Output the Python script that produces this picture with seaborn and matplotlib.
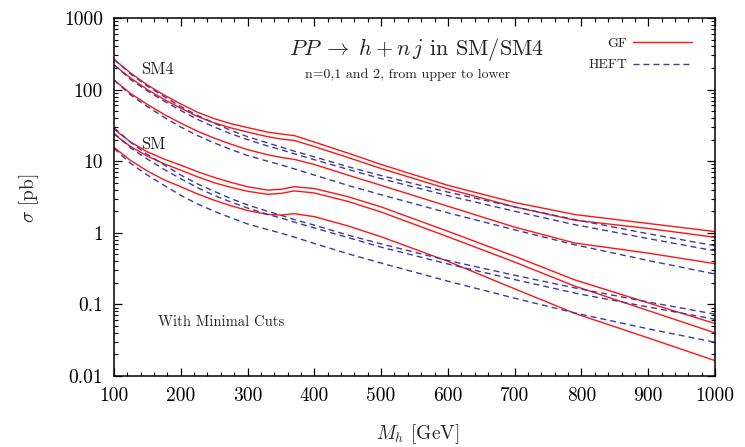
import pandas as pd
import matplotlib
matplotlib.use("Agg")
import matplotlib.pyplot as plt
import matplotlib.ticker as mticker
from matplotlib.lines import Line2D
import seaborn as sns

# ── Data: sigma [pb], n = 0, 1, 2 ──────────────────────────────────────────────
MH = [100, 125, 150, 175, 200, 225, 250, 275, 300, 330, 350, 370, 400, 450, 500, 600, 700, 790, 900, 1000]

SM4_GF0 = [265, 170, 116, 84, 63, 48.3, 39.3, 33.4, 29.5, 25.5, 24, 22.8, 18.5, 13, 9.0, 4.6, 2.65, 1.8, 1.35, 1.04]
SM4_GF1 = [221, 145, 100, 73, 55, 42.2, 34.3, 29.2, 25.5, 22, 20.4, 19.5, 16, 11.3, 7.9, 4.1, 2.3, 1.5, 1.15, 0.865]
SM4_GF2 = [136, 88, 62, 45, 34, 26.2, 21, 17.3, 14.5, 12.3, 11.3, 10.6, 9.0, 6.4, 4.6, 2.35, 1.2, 0.72, 0.52, 0.37]

SM4_HEFT0 = [265, 165, 112, 80, 58, 43.5, 34, 27, 22, 18, 15.8, 13.8, 11.5, 8.4, 6.3, 3.7, 2.3, 1.53, 0.97, 0.66]
SM4_HEFT1 = [221, 138, 96, 69, 51, 38.4, 30, 24.2, 20, 16.3, 14.5, 12.7, 10.5, 7.7, 5.7, 3.3, 2.0, 1.3, 0.83, 0.56]
SM4_HEFT2 = [136, 84, 58, 41, 30, 22.8, 18, 14.6, 12, 10, 8.9, 7.8, 6.4, 4.6, 3.4, 1.9, 1.1, 0.68, 0.41, 0.266]

SM_GF0 = [27.9, 18.5, 13.5, 10.7, 8.8, 7.15, 5.94, 5.06, 4.4, 3.95, 4.05, 4.4, 4.15, 3.2, 2.3, 1.05, 0.47, 0.22, 0.105, 0.054]
SM_GF1 = [23.8, 16, 11.8, 9.2, 7.5, 6.05, 5.0, 4.31, 3.8, 3.45, 3.55, 3.85, 3.6, 2.75, 1.95, 0.88, 0.39, 0.18, 0.082, 0.040]
SM_GF2 = [15.6, 10.2, 7.3, 5.5, 4.4, 3.49, 2.85, 2.39, 2.05, 1.8, 1.77, 1.85, 1.68, 1.25, 0.88, 0.40, 0.165, 0.075, 0.034, 0.0164]

SM_HEFT0 = [29.4, 18.3, 12.4, 8.9, 6.4, 4.83, 3.8, 3.0, 2.45, 2.0, 1.76, 1.53, 1.28, 0.93, 0.70, 0.41, 0.255, 0.17, 0.108, 0.073]
SM_HEFT1 = [24.6, 15.3, 10.7, 7.7, 5.7, 4.27, 3.33, 2.69, 2.22, 1.81, 1.61, 1.41, 1.17, 0.86, 0.63, 0.367, 0.222, 0.144, 0.092, 0.062]
SM_HEFT2 = [15.1, 9.3, 6.4, 4.6, 3.33, 2.53, 2.0, 1.62, 1.33, 1.11, 0.99, 0.87, 0.71, 0.51, 0.378, 0.211, 0.122, 0.076, 0.0456, 0.0296]

X_TICKS = [100, 200, 300, 400, 500, 600, 700, 800, 900, 1000]
Y_TICKS = [0.01, 0.1, 1, 10, 100, 1000]

RED = "#ff1414"
BLUE = "#3c3ca0"

# ── Long-form table ────────────────────────────────────────────────────────────
curves = {
    ("SM4", "GF", 0): SM4_GF0, ("SM4", "GF", 1): SM4_GF1, ("SM4", "GF", 2): SM4_GF2,
    ("SM4", "HEFT", 0): SM4_HEFT0, ("SM4", "HEFT", 1): SM4_HEFT1, ("SM4", "HEFT", 2): SM4_HEFT2,
    ("SM", "GF", 0): SM_GF0, ("SM", "GF", 1): SM_GF1, ("SM", "GF", 2): SM_GF2,
    ("SM", "HEFT", 0): SM_HEFT0, ("SM", "HEFT", 1): SM_HEFT1, ("SM", "HEFT", 2): SM_HEFT2,
}
rows = []
for (model, scheme, n), vals in curves.items():
    for m, s in zip(MH, vals):
        rows.append({"Mh": m, "sigma": s, "scheme": scheme, "curve": f"{model}-{scheme}-{n}"})
df = pd.DataFrame(rows)

# ── Style ──────────────────────────────────────────────────────────────────────
sns.set_theme(style="ticks")
plt.rcParams.update({
    "font.family": ["cmr10", "DejaVu Serif"],
    "mathtext.fontset": "cm",
    "axes.formatter.use_mathtext": True,
    "axes.unicode_minus": False,
    "axes.linewidth": 1.1,
    "axes.edgecolor": "black",
    "text.color": "#222222",
})

fig = plt.figure(figsize=(7.45, 4.47), dpi=100)
ax = fig.add_axes([114 / 745, 1 - 376 / 447, 601 / 745, 358 / 447])

sns.lineplot(data=df, x="Mh", y="sigma", hue="scheme", style="scheme",
             units="curve", estimator=None, sort=False,
             palette={"GF": RED, "HEFT": BLUE},
             dashes={"GF": "", "HEFT": (4.3, 2.9)},
             linewidth=1.0, legend=False, ax=ax)

ax.set_yscale("log")
ax.set_xlim(100, 1000)
ax.set_ylim(0.01, 1000)

ax.xaxis.set_major_locator(mticker.FixedLocator(X_TICKS))
ax.xaxis.set_minor_locator(mticker.MultipleLocator(20))
ax.yaxis.set_major_locator(mticker.FixedLocator(Y_TICKS))
ax.yaxis.set_minor_locator(mticker.LogLocator(base=10, subs=range(2, 10), numticks=20))
ax.xaxis.set_major_formatter(mticker.FuncFormatter(lambda v, _: f"{v:g}"))
ax.yaxis.set_major_formatter(mticker.FuncFormatter(lambda v, _: f"{v:g}"))
ax.yaxis.set_minor_formatter(mticker.NullFormatter())

ax.tick_params(which="both", direction="in", top=True, right=True, colors="black")
ax.tick_params(which="major", length=6, width=0.9, labelsize=14, pad=8)
ax.tick_params(which="minor", length=3, width=0.8)

ax.set_xlabel(r"$M_h$ [GeV]", fontsize=14)
ax.set_ylabel(r"$\sigma$ [pb]", fontsize=14)
ax.xaxis.set_label_coords(0.506, -0.128)
ax.yaxis.set_label_coords(-0.122, 0.497)

# ── Annotations ────────────────────────────────────────────────────────────────
ax.text(0.504, 0.912, r"$PP \;\rightarrow\; h + n\,j$ in SM/SM4", transform=ax.transAxes,
        ha="center", va="center", fontsize=16)
ax.text(0.488, 0.843, "n=0,1 and 2, from upper to lower", transform=ax.transAxes,
        ha="center", va="center", fontsize=10)
ax.text(0.073, 0.857, "SM4", transform=ax.transAxes, ha="center", va="center", fontsize=12)
ax.text(0.066, 0.648, "SM", transform=ax.transAxes, ha="center", va="center", fontsize=12)
ax.text(0.178, 0.151, "With Minimal Cuts", transform=ax.transAxes,
        ha="center", va="center", fontsize=10.5)

handles = [Line2D([], [], color=RED, lw=1.0),
           Line2D([], [], color=BLUE, lw=1.0, dashes=(4.3, 2.9))]
ax.legend(handles, ["GF", "HEFT"], loc="upper right", bbox_to_anchor=(0.962, 0.947),
          frameon=False, markerfirst=False, fontsize=10, handlelength=4.25,
          handletextpad=0.4, labelspacing=0.65, borderpad=0, borderaxespad=0)

fig.savefig("out.png", dpi=100)
